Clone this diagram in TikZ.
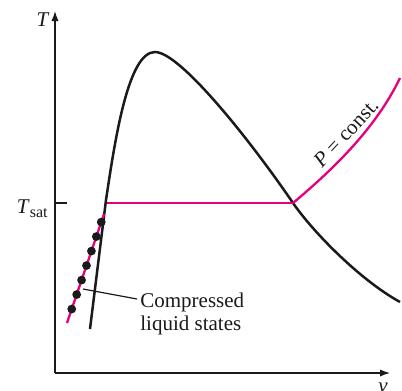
\documentclass[tikz,border=0pt]{standalone}
\usepackage{fontspec}
\setmainfont{Liberation Serif}
\usepackage{xcolor}
\definecolor{isobar}{HTML}{E6007E}
\definecolor{ink}{HTML}{1A1A1A}
\usepackage{tikz}
\usetikzlibrary{arrows.meta, positioning, calc}

\begin{document}
\begin{tikzpicture}[x=0.5pt, y=-0.5pt, >={Latex[length=5pt, width=3.6pt]},
  axis/.style={->, line width=0.6pt, ink},
  dome/.style={line width=1.25pt, ink},
  pline/.style={line width=1.15pt, isobar},
  statedot/.style={circle, fill=ink, inner sep=0pt, minimum size=4.4pt},
  lbl/.style={font=\fontsize{10.5}{11.5}\selectfont, text=ink, inner sep=0pt}]

  \useasboundingbox (0,0) rectangle (402,391);

  % axes
  \coordinate (origin) at (55,373);
  \coordinate (ytip) at (55,11);
  \coordinate (xtip) at (390,373);
  \draw[axis] (origin) -- (ytip);
  \draw[axis] (origin) -- (xtip);
  \node[lbl, anchor=base east] (tlabel) at (50,26) {\textit{T}};
  \node[lbl, anchor=base] (vlabel) at (383,392) {\textit{v}};

  % saturation temperature tick
  \coordinate (tsat) at (55,203);
  \draw[line width=0.6pt, ink] (tsat) -- ++(12,0);
  \node[lbl, anchor=base east] (tsatlabel) at (48,213)
    {\textit{T}\raisebox{-0.45ex}{\fontsize{8}{9}\selectfont sat}};

  % saturation dome
  \coordinate (peak) at (155,52);
  \draw[dome] (90,329) -- (106,200)
    .. controls (115,140) and (128,52) .. (peak)
    .. controls (180,52) and (250,140) .. (293,203)
    .. controls (313,232) and (360,280) .. (400,302);

  % constant pressure line
  \coordinate (liqA) at (67,323);
  \coordinate (liqB) at (104,214);
  \coordinate (satL) at (107,203);
  \coordinate (satV) at (293,203);
  \draw[pline] (liqA) -- (liqB);
  \draw[pline] (satL) -- (satV);
  \draw[pline] (satV) .. controls (330,172) and (375,130) .. (400,78);
  \node[lbl, rotate=47] (plabel) at (346,133) {\textit{P} = const.};

  % compressed liquid states
  \foreach \t [count=\i] in {0.128,0.261,0.394,0.527,0.660,0.793,0.926}
    \node[statedot] (dot\i) at ($(liqA)!\t!(liqB)$) {};

  \node[lbl, align=left, anchor=north west] (clabel) at (140,293)
    {Compressed\\liquid states};
  \coordinate (cpoint) at (83,289);
  \draw[line width=0.6pt, ink] ($(clabel.north west)+(-3,6)$) -- (cpoint);

\end{tikzpicture}
\end{document}
